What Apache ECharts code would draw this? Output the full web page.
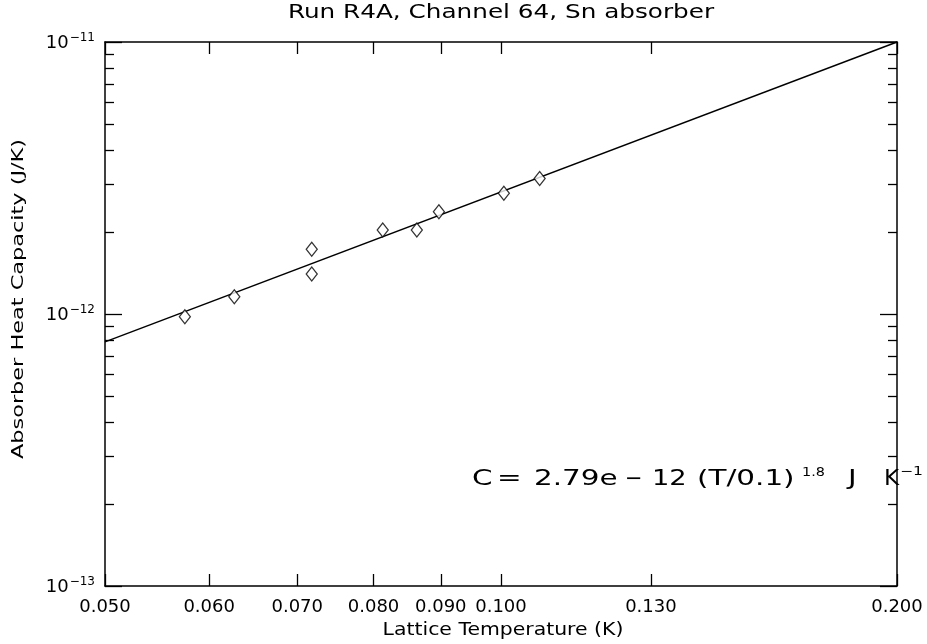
<!DOCTYPE html>
<html><head><meta charset="utf-8">
<script src="https://cdn.jsdelivr.net/npm/echarts@6/dist/echarts.min.js"></script>
<style>html,body{margin:0;padding:0;background:#fff}#c{width:927px;height:644px}</style>
</head><body><div id="c"></div>
<script>
const temperatures = [0.0575, 0.0627, 0.0718, 0.0718, 0.0813, 0.0863, 0.0897, 0.1005, 0.107];
const heatCapacity = [9.77e-13, 1.158e-12, 1.729e-12, 1.404e-12, 2.036e-12, 2.036e-12, 2.377e-12, 2.78e-12, 3.15e-12];
// Fit line end points
const fitT = [0.05, 0.2];
const fitC = [7.9e-13, 1.0e-11];
// Tick values
const xTicks = [0.05, 0.06, 0.07, 0.08, 0.09, 0.1, 0.13, 0.2];
const yMajor = [1e-13, 1e-12, 1e-11];
const yMinor = [2e-13, 3e-13, 4e-13, 5e-13, 6e-13, 7e-13, 8e-13, 9e-13, 2e-12, 3e-12, 4e-12, 5e-12, 6e-12, 7e-12, 8e-12, 9e-12];
const titleText = 'Run R4A, Channel 64, Sn absorber';
const xName = 'Lattice Temperature (K)';
const yName = 'Absorber Heat Capacity (J/K)';

const FONT = 'DejaVu Sans';
const chart = echarts.init(document.getElementById('c'), null, {renderer: 'canvas'});
const gridRect = {left: 105, top: 42, right: 30, bottom: 58};
const axisLineStyle = {color: '#000', width: 1.5};

function yLabel(v) {
  const e = Math.round(Math.log10(v));
  return '{b|10}{s|\u2212' + (-e) + '}';
}

function eqPiece(text, x, y, size, sx) {
  return {
    type: 'text', x: x, y: y, z: 10, scaleX: sx,
    style: {text: text, fontFamily: FONT, fontSize: size, fill: '#000', textAlign: 'left', textVerticalAlign: 'middle'}
  };
}

const option = {
  backgroundColor: '#fff',
  animation: false,
  grid: [Object.assign({}, gridRect), Object.assign({}, gridRect)],
  xAxis: [
    {
      type: 'log', logBase: 10, min: 0.05, max: 0.2, gridIndex: 0, position: 'bottom',
      axisLine: {show: true, lineStyle: axisLineStyle},
      axisTick: {show: true, inside: true, length: 12, customValues: xTicks, lineStyle: {color: '#000', width: 1.3}},
      axisLabel: {show: true, customValues: xTicks, margin: 12, fontFamily: FONT, fontSize: 18, color: '#000',
        formatter: v => Number(v).toFixed(3)},
      splitLine: {show: false}, minorTick: {show: false}
    },
    {
      type: 'log', logBase: 10, min: 0.05, max: 0.2, gridIndex: 0, position: 'top',
      axisLine: {show: true, lineStyle: axisLineStyle},
      axisTick: {show: true, inside: true, length: 12, customValues: xTicks, lineStyle: {color: '#000', width: 1.3}},
      axisLabel: {show: false}, splitLine: {show: false}
    },
    {
      type: 'log', logBase: 10, min: 0.05, max: 0.2, gridIndex: 1, show: false
    }
  ],
  yAxis: [
    {
      type: 'log', logBase: 10, min: 1e-13, max: 1e-11, gridIndex: 0, position: 'left',
      axisLine: {show: true, lineStyle: axisLineStyle},
      axisTick: {show: true, inside: true, length: 17, customValues: yMajor, lineStyle: {color: '#000', width: 1.3}},
      axisLabel: {show: true, customValues: yMajor, margin: 10, formatter: yLabel,
        rich: {
          b: {fontFamily: FONT, fontSize: 18, color: '#000', verticalAlign: 'bottom'},
          s: {fontFamily: FONT, fontSize: 12, color: '#000', verticalAlign: 'bottom', padding: [0, 0, 9, 1]}
        }},
      splitLine: {show: false}
    },
    {
      type: 'log', logBase: 10, min: 1e-13, max: 1e-11, gridIndex: 0, position: 'right',
      axisLine: {show: true, lineStyle: axisLineStyle},
      axisTick: {show: true, inside: true, length: 17, customValues: yMajor, lineStyle: {color: '#000', width: 1.3}},
      axisLabel: {show: false}, splitLine: {show: false}
    },
    {
      type: 'log', logBase: 10, min: 1e-13, max: 1e-11, gridIndex: 1, position: 'left',
      axisLine: {show: false},
      axisTick: {show: true, inside: true, length: 9, customValues: yMinor, lineStyle: {color: '#000', width: 1.3}},
      axisLabel: {show: false}, splitLine: {show: false}
    },
    {
      type: 'log', logBase: 10, min: 1e-13, max: 1e-11, gridIndex: 1, position: 'right',
      axisLine: {show: false},
      axisTick: {show: true, inside: true, length: 9, customValues: yMinor, lineStyle: {color: '#000', width: 1.3}},
      axisLabel: {show: false}, splitLine: {show: false}
    }
  ],
  series: [
    {
      type: 'line', xAxisIndex: 0, yAxisIndex: 0,
      data: fitT.map((t, i) => [t, fitC[i]]),
      showSymbol: false, lineStyle: {color: '#000', width: 1.4}, z: 2
    },
    {
      type: 'scatter', xAxisIndex: 0, yAxisIndex: 0,
      data: temperatures.map((t, i) => [t, heatCapacity[i]]),
      symbol: 'diamond', symbolSize: [11, 14],
      itemStyle: {color: '#fff', borderColor: '#000', borderWidth: 1.3}, z: 3
    }
  ],
  graphic: [
    {
      type: 'text', x: 501, y: 13, scaleX: 1.3,
      style: {text: titleText, fontFamily: FONT, fontSize: 19, fill: '#000', textAlign: 'center', textVerticalAlign: 'middle'}
    },
    {
      type: 'text', x: 503, y: 631, scaleX: 1.2,
      style: {text: xName, fontFamily: FONT, fontSize: 17, fill: '#000', textAlign: 'center', textVerticalAlign: 'middle'}
    },
    {
      type: 'text', x: 19, y: 299, rotation: Math.PI / 2, scaleX: 1.4,
      style: {text: yName, fontFamily: FONT, fontSize: 16, fill: '#000', textAlign: 'center', textVerticalAlign: 'middle'}
    },
    eqPiece('C', 472, 480, 21, 1.4),
    eqPiece('=', 497, 480, 21, 1.4),
    eqPiece('2.79e', 534, 480, 21, 1.4),
    eqPiece('\u2212', 625, 480, 21, 1.0),
    eqPiece('12', 652, 480, 21, 1.3),
    eqPiece('(T/0.1)', 697, 480, 21, 1.4),
    eqPiece('1.8', 802, 473, 12, 1.2),
    eqPiece('J', 848, 480, 21, 1.4),
    eqPiece('K', 884, 480, 21, 1.1),
    eqPiece('\u22121', 900, 472, 12, 1.3)
  ]
};
chart.setOption(option);
</script>
</body></html>
